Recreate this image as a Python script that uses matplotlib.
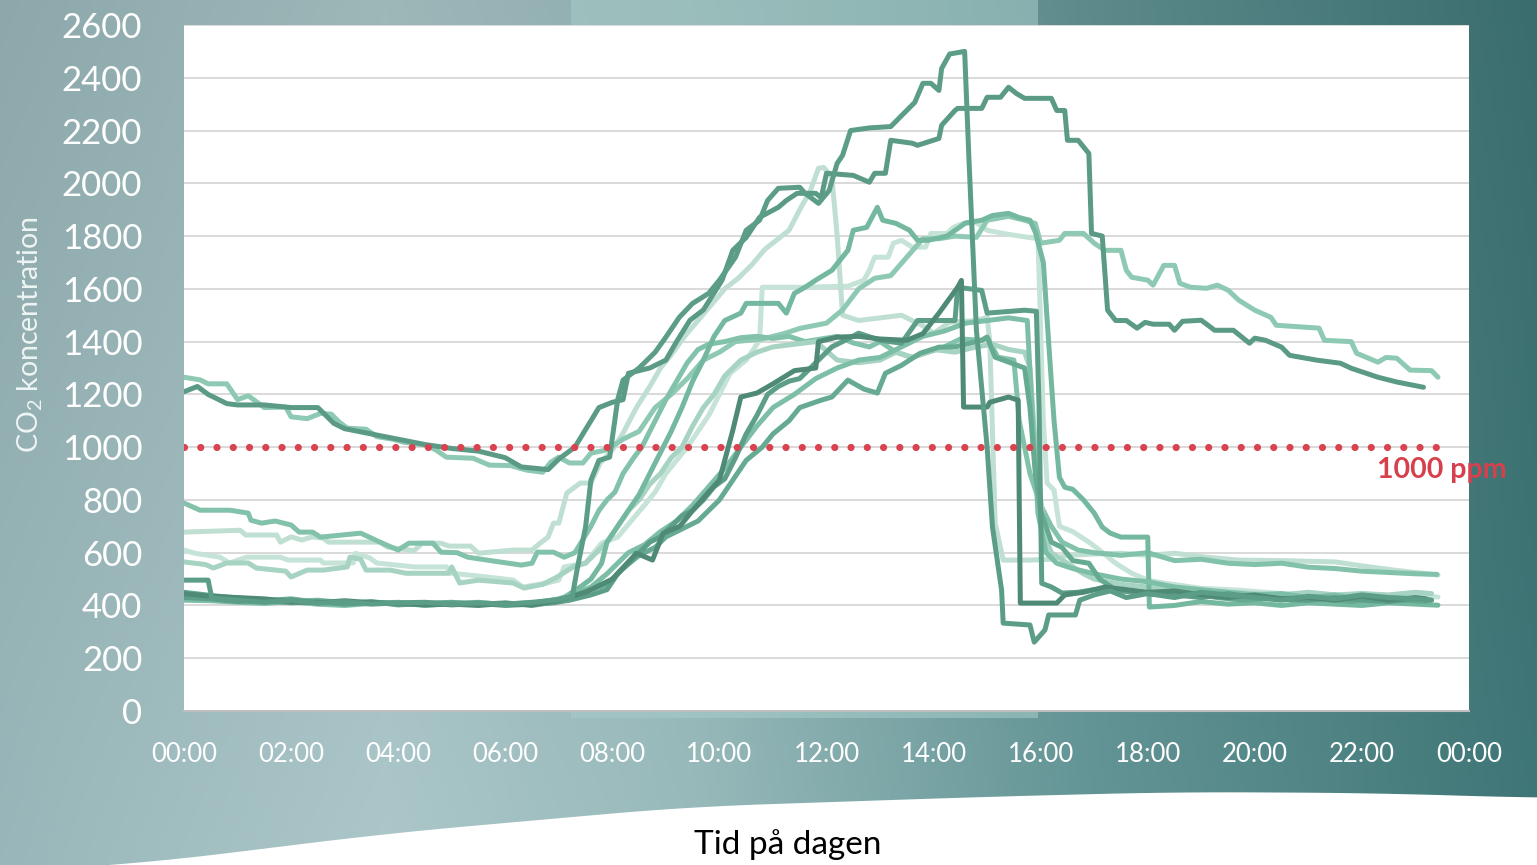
import numpy as np
import matplotlib
matplotlib.use("Agg")
import matplotlib.pyplot as plt
from matplotlib.patches import Rectangle, Polygon

plt.rcParams['font.family'] = ['Lato', 'DejaVu Sans']

# ---------------- data (hour of day, CO2 ppm) ----------------
s2 = [(0,1210),(0.25,1230),(0.45,1200),(0.8,1165),(1.0,1160),(1.5,1160),(2.0,1150),(2.5,1150),(2.8,1090),(3.0,1070),
      (3.5,1050),(4.0,1030),(4.5,1010),(5.0,995),(5.5,985),(6.0,960),(6.3,925),(6.8,915),(7.0,955),(7.3,1000),(7.6,1100),
      (7.75,1150),(8.0,1170),(8.2,1180),(8.3,1280),(8.7,1300),(9.0,1330),(9.2,1400),(9.45,1481),(9.7,1520),(10.05,1633),
      (10.25,1746),(10.5,1795),(10.75,1871),(11.1,1909),(11.25,1935),(11.45,1962),(11.8,1962),(11.9,1945),(12.0,2038),
      (12.5,2030),(12.8,2004),(12.9,2038),(13.1,2038),(13.2,2163),(13.6,2152),(13.7,2144),(14.1,2170),(14.15,2220),
      (14.4,2276),(14.45,2284),(14.9,2284),(15.0,2326),(15.25,2326),(15.4,2364),(15.55,2340),(15.7,2322),(16.2,2322),
      (16.3,2276),(16.45,2276),(16.5,2163),(16.7,2163),(16.9,2113),(16.95,1810),(17.15,1800),(17.25,1519),(17.4,1480),
      (17.6,1480),(17.8,1451),(17.95,1473),(18.1,1466),(18.4,1466),(18.5,1443),(18.65,1477),(19.0,1481),(19.25,1443),
      (19.6,1443),(19.9,1394),(20.0,1413),(20.2,1405),(20.5,1379),(20.65,1348),(21.15,1330),(21.6,1318),(21.8,1299),
      (22.3,1265),(22.65,1247),(22.95,1235),(23.15,1227)]

s3 = [(0,1265),(0.3,1255),(0.45,1240),(0.8,1240),(1.0,1180),(1.2,1195),(1.5,1150),(1.9,1152),(2.0,1115),(2.3,1108),
      (2.55,1128),(2.75,1125),(2.9,1095),(3.05,1072),(3.4,1068),(3.6,1040),(3.9,1030),(4.1,1019),(4.5,1008),(4.7,990),
      (4.9,962),(5.4,958),(5.7,932),(6.1,930),(6.4,913),(6.7,905),(6.85,943),(7.0,962),(7.2,940),(7.45,940),(7.6,977),
      (7.9,990),(8.2,1030),(8.5,1060),(8.8,1150),(9.1,1200),(9.4,1260),(9.7,1330),(10.0,1360),(10.3,1400),(10.8,1410),
      (11.2,1430),(11.5,1450),(12.0,1470),(12.3,1520),(12.6,1600),(12.9,1640),(13.2,1650),(13.5,1720),(13.8,1790),
      (14.1,1790),(14.4,1800),(14.8,1795),(15.0,1860),(15.4,1875),(15.7,1860),(15.9,1848),(16.0,1773),(16.35,1784),
      (16.45,1810),(16.8,1810),(17.0,1773),(17.2,1746),(17.5,1746),(17.6,1670),(17.7,1644),(18.0,1633),(18.1,1614),
      (18.3,1689),(18.5,1689),(18.6,1621),(18.8,1606),(19.1,1602),(19.3,1614),(19.5,1595),(19.7,1557),(20.0,1519),
      (20.3,1492),(20.4,1462),(21.2,1451),(21.3,1405),(21.8,1400),(21.9,1356),(22.3,1322),(22.45,1340),(22.65,1337),
      (22.9,1292),(23.3,1290),(23.42,1265)]

peak = [(0,496),(0.45,496),(0.52,428),(1.0,420),(1.5,412),(2.0,420),(2.5,408),(3.0,415),(3.5,405),(4.0,410),(4.5,412),
        (5.0,405),(5.5,410),(6.0,405),(6.5,412),(6.9,420),(7.25,432),(7.35,545),(7.5,697),(7.6,875),(7.75,950),(7.95,962),
        (8.1,1180),(8.2,1254),(8.5,1300),(8.8,1360),(9.0,1417),(9.25,1492),(9.5,1545),(9.8,1583),(10.0,1633),(10.3,1720),
        (10.5,1822),(10.75,1860),(10.9,1935),(11.1,1981),(11.5,1985),(11.6,1962),(11.85,1924),(12.05,1973),(12.2,2076),
        (12.3,2106),(12.45,2200),(12.8,2210),(13.2,2215),(13.37,2250),(13.65,2307),(13.8,2379),(13.95,2379),(14.1,2352),
        (14.15,2435),(14.3,2490),(14.58,2500),(14.66,2095),(14.8,1443),(15.0,1000),(15.1,697),(15.27,458),(15.3,333),
        (15.8,326),(15.88,261),(16.08,307),(16.15,364),(16.65,364),(16.73,420),(17.0,440),(17.3,455),(17.6,430),
        (18.0,445),(18.5,430),(19.0,450),(19.5,440),(20.0,430),(20.5,420),(21.0,435),(21.5,425),(22.0,440),(22.5,430),
        (23.0,425),(23.3,420)]

l1 = [(0,788),(0.3,761),(0.86,761),(1.2,750),(1.25,723),(1.45,712),(1.7,720),(2.0,705),(2.15,678),(2.4,678),(2.55,659),
      (3.3,674),(3.45,660),(3.66,640),(4.0,610),(4.2,636),(4.65,636),(4.8,602),(5.1,600),(5.3,583),(5.66,572),(6.3,553),
      (6.5,560),(6.6,602),(6.9,602),(7.1,583),(7.3,600),(7.45,650),(7.6,700),(7.75,760),(7.9,800),(8.05,830),(8.2,900),
      (8.4,960),(8.55,1000),(8.7,1060),(8.85,1120),(9.0,1180),(9.2,1250),(9.4,1320),(9.6,1370),(9.8,1390),(10.1,1400),
      (10.4,1415),(10.7,1420),(11.0,1412),(11.3,1420),(11.6,1400),(11.9,1410),(12.2,1420),(12.5,1395),(12.8,1380),
      (13.0,1400),(13.3,1360),(13.6,1340),(13.9,1360),(14.2,1380),(14.5,1410),(14.9,1405),(15.0,1417),(15.2,1341),
      (15.5,1330),(15.6,1100),(15.8,900),(16.0,780),(16.2,700),(16.4,640),(16.7,610),(17.0,600),(17.5,590),(18.0,600),
      (18.5,570),(19.0,575),(19.5,560),(20.0,555),(20.5,560),(21.0,545),(21.5,540),(22.0,530),(22.5,525),(23.0,520),
      (23.4,518)]

l2 = [(0,678),(1.05,685),(1.15,667),(1.73,667),(1.8,640),(2.0,660),(2.2,648),(2.4,660),(2.6,655),(2.7,640),(3.66,640),
      (3.8,621),(4.3,608),(4.45,636),(4.8,636),(4.95,625),(5.35,625),(5.5,598),(6.15,610),(6.5,610),(6.65,636),(6.8,659),
      (6.9,712),(7.0,712),(7.15,826),(7.4,864),(7.6,864),(7.77,939),(8.0,989),(8.2,1053),(8.45,1150),(8.7,1230),
      (8.9,1300),(9.1,1350),(9.35,1420),(9.6,1480),(9.85,1540),(10.1,1600),(10.35,1640),(10.6,1690),(10.85,1750),
      (11.1,1790),(11.3,1822),(11.5,1900),(11.7,1973),(11.85,2057),(11.95,2060),(12.1,2023),(12.2,1800),(12.3,1500),
      (12.6,1480),(13.0,1490),(13.4,1500),(13.8,1460),(14.0,1432),(14.3,1473),(14.8,1480),(15.0,1492),(15.05,1400),
      (15.15,712),(15.3,572),(15.8,572),(16.2,575),(16.5,590),(17.0,595),(17.5,598),(18.0,590),(18.5,598),(19.0,585),
      (19.7,572),(20.5,570),(21.5,565),(22.0,550),(22.6,534),(23.0,525),(23.42,515)]

l3 = [(0,610),(0.2,598),(0.67,583),(0.85,561),(1.17,583),(1.8,583),(1.95,572),(2.55,572),(2.6,561),(3.16,561),(3.2,598),
      (3.47,580),(3.6,561),(4.3,546),(4.9,546),(5.0,522),(5.66,508),(6.15,496),(6.33,470),(6.78,485),(7.0,496),(7.1,546),
      (7.5,561),(7.8,636),(8.1,659),(8.35,720),(8.6,780),(8.8,830),(9.0,900),(9.2,950),(9.4,1000),(9.6,1060),(9.8,1120),
      (10.0,1200),(10.2,1280),(10.5,1330),(10.75,1405),(10.8,1606),(11.5,1606),(12.4,1610),(12.7,1633),(12.8,1670),
      (12.9,1720),(13.15,1720),(13.25,1773),(13.4,1784),(13.6,1758),(13.85,1758),(13.95,1810),(14.25,1810),(14.37,1833),
      (14.55,1848),(14.8,1850),(15.0,1822),(15.3,1810),(15.6,1800),(15.95,1790),(16.05,1100),(16.12,864),(16.25,837),
      (16.35,700),(16.6,680),(16.9,640),(17.1,610),(17.4,560),(17.7,522),(18.0,496),(18.3,485),(19.0,465),(19.7,458),
      (20.5,445),(21.0,440),(21.5,435),(22.0,445),(22.5,435),(23.0,438),(23.42,432)]

l4 = [(0,565),(0.4,555),(0.55,542),(0.8,561),(1.2,561),(1.35,542),(1.9,530),(2.0,508),(2.3,534),(2.6,534),(3.05,546),
      (3.1,583),(3.3,575),(3.4,534),(3.85,534),(4.15,522),(4.95,522),(5.0,546),(5.15,485),(5.5,496),(6.15,485),(6.35,466),
      (6.7,480),(6.97,508),(7.27,546),(7.5,560),(7.7,600),(7.9,640),(8.1,700),(8.3,760),(8.5,800),(8.7,860),(8.9,900),
      (9.1,960),(9.3,1000),(9.5,1080),(9.7,1150),(9.9,1200),(10.1,1270),(10.4,1330),(10.7,1360),(11.0,1380),(11.4,1390),
      (11.8,1400),(12.2,1330),(12.6,1320),(13.0,1330),(13.3,1360),(13.6,1340),(14.0,1370),(14.4,1360),(14.8,1380),
      (15.1,1390),(15.4,1370),(15.7,1360),(15.8,1300),(15.9,1000),(16.0,800),(16.1,650),(16.2,600),(16.5,560),(16.8,520),
      (17.0,500),(17.5,480),(18.0,470),(18.5,460),(19.0,455),(19.5,450),(20.0,445),(20.5,440),(21.0,450),(21.5,440),
      (22.0,445),(22.5,440),(23.0,450),(23.3,445)]

r = [(0,440),(0.5,432),(1.0,425),(1.5,420),(2.0,415),(2.5,420),(3.0,410),(3.5,408),(4.0,412),(4.5,405),(5.0,410),
     (5.5,406),(6.0,405),(6.5,410),(6.9,412),(7.1,430),(7.4,470),(7.6,500),(7.8,560),(7.9,640),(8.1,700),(8.3,760),
     (8.5,820),(8.7,900),(8.9,980),(9.1,1060),(9.3,1150),(9.5,1250),(9.7,1330),(9.9,1420),(10.1,1480),(10.4,1508),
     (10.5,1545),(11.1,1545),(11.25,1508),(11.4,1583),(11.6,1606),(11.8,1633),(12.1,1670),(12.4,1746),(12.5,1822),
     (12.75,1833),(12.95,1909),(13.05,1860),(13.3,1848),(13.55,1822),(13.7,1784),(13.9,1784),(14.25,1800),(14.6,1850),
     (14.9,1860),(15.1,1878),(15.4,1886),(15.6,1870),(15.8,1860),(15.9,1815),(16.05,1700),(16.15,1394),(16.25,1100),
     (16.35,886),(16.45,848),(16.6,840),(16.8,800),(17.0,750),(17.15,697),(17.3,674),(17.5,659),(18.0,659),(18.03,394),
     (18.5,400),(19.0,415),(19.5,405),(20.0,410),(20.5,400),(21.0,410),(21.5,405),(22.0,400),(22.5,410),(23.0,405),
     (23.42,401)]

b1 = [(0,445),(0.5,435),(1.0,430),(1.5,425),(2.0,415),(2.5,410),(3.0,418),(3.5,410),(4.0,408),(4.5,402),(5.0,405),
      (5.5,400),(6.0,408),(6.5,402),(7.0,420),(7.5,450),(8.0,500),(8.45,598),(8.75,572),(8.95,674),(9.26,700),(9.5,760),
      (9.8,830),(10.0,875),(10.25,1064),(10.4,1190),(10.7,1205),(11.0,1240),(11.4,1290),(11.8,1300),(11.85,1400),
      (12.2,1417),(12.6,1420),(13.0,1410),(13.5,1405),(13.8,1430),(14.1,1508),(14.45,1606),(14.52,1632),(14.56,1152),
      (15.0,1152),(15.05,1170),(15.4,1190),(15.58,1178),(15.62,409),(16.3,409),(16.45,440),(16.8,450),(17.2,470),
      (17.6,460),(18.0,450),(18.5,455),(19.0,440),(19.5,430),(20.0,440),(20.5,425),(21.0,430),(21.5,420),(22.0,435),
      (22.5,420),(23.0,430),(23.2,425)]

b2 = [(0,430),(0.5,425),(1.0,415),(1.5,420),(2.0,410),(2.5,415),(3.0,405),(3.5,412),(4.0,405),(4.5,410),(5.0,402),
      (5.5,408),(6.0,400),(6.5,405),(6.9,410),(7.2,420),(7.6,440),(7.9,460),(8.1,520),(8.3,560),(8.5,600),(8.7,640),
      (8.9,660),(9.1,700),(9.3,740),(9.5,760),(9.7,800),(9.9,850),(10.1,880),(10.3,960),(10.5,1050),(10.7,1120),
      (10.9,1200),(11.1,1230),(11.3,1250),(11.5,1260),(11.7,1300),(11.9,1340),(12.1,1380),(12.3,1400),(12.6,1432),
      (13.0,1405),(13.4,1394),(13.7,1480),(14.4,1480),(14.45,1606),(14.9,1594),(15.0,1508),(15.7,1519),(15.92,1515),
      (15.97,1150),(16.02,484),(16.2,470),(16.4,447),(16.7,450),(17.0,460),(17.5,455),(18.0,445),(18.5,440),(19.0,430),
      (19.5,445),(20.0,430),(20.5,425),(21.0,420),(21.5,430),(22.0,420),(22.5,415),(23.0,425),(23.25,420)]

b3 = [(0,450),(0.5,438),(1.0,428),(1.5,418),(2.0,425),(2.5,412),(3.0,408),(3.5,415),(4.0,402),(4.5,408),(5.0,412),
      (5.5,404),(6.0,410),(6.5,400),(7.0,415),(7.3,440),(7.6,460),(7.9,480),(8.2,540),(8.5,590),(8.8,620),(9.0,660),
      (9.3,690),(9.6,720),(9.8,760),(10.0,800),(10.2,860),(10.5,950),(10.8,1000),(11.0,1050),(11.3,1100),(11.5,1150),
      (11.9,1178),(12.1,1190),(12.4,1254),(12.7,1220),(12.95,1205),(13.1,1280),(13.4,1310),(13.75,1356),(14.1,1379),
      (14.4,1380),(14.9,1405),(15.0,1417),(15.15,1341),(15.3,1330),(15.7,1300),(15.8,1150),(15.9,900),(16.0,760),
      (16.2,640),(16.4,620),(16.6,570),(16.9,560),(17.1,500),(17.4,460),(17.8,450),(18.3,440),(18.8,445),(19.3,430),
      (19.8,420),(20.3,430),(20.8,420),(21.3,425),(21.8,415),(22.3,430),(22.8,420),(23.2,415)]

b4 = [(0,420),(0.5,418),(1.0,412),(1.5,408),(2.0,414),(2.5,405),(3.0,400),(3.5,408),(4.0,410),(4.5,400),(5.0,408),
      (5.5,412),(6.0,402),(6.5,408),(7.0,425),(7.3,445),(7.6,470),(7.9,520),(8.1,560),(8.3,600),(8.6,630),(8.9,680),
      (9.2,720),(9.5,780),(9.8,850),(10.1,920),(10.4,1000),(10.7,1080),(11.0,1150),(11.4,1200),(11.8,1260),(12.2,1300),
      (12.6,1330),(13.0,1340),(13.4,1380),(13.8,1420),(14.2,1440),(14.6,1470),(15.0,1480),(15.4,1490),(15.75,1480),
      (15.85,1100),(15.95,750),(16.1,600),(16.3,560),(16.6,540),(17.0,520),(17.5,500),(18.0,490),(18.5,470),(19.0,460),
      (19.5,450),(20.0,440),(20.5,445),(21.0,430),(21.5,440),(22.0,420),(22.5,430),(23.0,425),(23.3,420)]

series = [l3, l2, s3, l1, l4, r, b4, b3, b2, b1, s2, peak]
colors = ['#c6e3d8', '#bfdfd2', '#8ec9b3', '#82c2aa', '#a6d3c2', '#74b99f',
          '#7dbfa6', '#66aa92', '#5d9e89', '#4f8a77', '#5b9b86', '#5c9d88']

threshold_t = [0, 23.42]
threshold_v = [1000, 1000]
threshold_label = '1000 ppm'

hour_ticks = list(range(0, 25, 2))
hour_labels = ['%02d:00' % (h % 24) for h in hour_ticks]
y_ticks = list(range(0, 2601, 200))

# ---------------- figure ----------------
W, H = 1537, 865
fig = plt.figure(figsize=(W / 100, H / 100), dpi=100)

# background gradient (decoration)
bg = fig.add_axes([0, 0, 1, 1], zorder=-10)
bg.set_xlim(0, W); bg.set_ylim(H, 0); bg.axis('off')
xs = np.linspace(0, 1, 400)
stops_x = [0.0, 0.25, 0.45, 0.7, 1.0]
stops_c = np.array([[150, 179, 182], [168, 195, 197], [150, 183, 184], [100, 148, 149], [62, 116, 117]]) / 255
row = np.stack([np.interp(xs, stops_x, stops_c[:, k]) for k in range(3)], axis=-1)
ys = np.linspace(0, 1, 200)[:, None, None]
img = row[None, :, :] * (0.94 + 0.08 * ys)
img = np.clip(img, 0, 1)
bg.imshow(img, extent=[0, W, H, 0], aspect='auto', zorder=0)
bg.add_patch(Rectangle((571, 0), 467, 718, facecolor='#a6cdc9', alpha=0.55, lw=0, zorder=1))
wx = np.array([0, 147, 392, 686, 980, 1176, 1372, 1537])
wy = np.array([872, 863, 833, 807, 797, 792, 793, 798])
cx = np.linspace(0, W, 200)
cy = np.interp(cx, wx, wy)
cy = np.convolve(np.pad(cy, 10, mode='edge'), np.ones(21) / 21, mode='valid')
poly = np.vstack([np.column_stack([cx, cy]), [[W, H + 5], [0, H + 5]]])
bg.add_patch(Polygon(poly, closed=True, facecolor='white', lw=0, zorder=2))

# plot area
ax = fig.add_axes([184 / W, 1 - 711 / H, (1469 - 184) / W, (711 - 25) / H])
ax.set_facecolor('white')
ax.set_xlim(0, 24)
ax.set_ylim(0, 2600)
for sp in ['top', 'right', 'left']:
    ax.spines[sp].set_visible(False)
ax.spines['bottom'].set_color('#bfbfbf')
ax.spines['bottom'].set_linewidth(1.5)
ax.set_yticks(y_ticks)
ax.set_xticks(hour_ticks)
ax.set_xticklabels(hour_labels)
ax.grid(axis='y', color='#d9d9d9', lw=1.4)
ax.set_axisbelow(True)
ax.tick_params(axis='both', length=0)
ax.tick_params(axis='y', pad=30, labelsize=25, labelcolor='white')
ax.tick_params(axis='x', pad=22, labelsize=18.5, labelcolor='white')

for s, c in zip(series, colors):
    t = [p[0] for p in s]
    v = [p[1] for p in s]
    ax.plot(t, v, color=c, lw=3.6, solid_joinstyle='round', solid_capstyle='round', zorder=3)

ax.plot(threshold_t, threshold_v, color='#d9434f', lw=5.2, linestyle=(0, (0.001, 2.25)),
        dash_capstyle='round', zorder=4)
ax.text(22.28, 913, threshold_label, color='#d6404d', fontsize=20.5, fontweight='bold',
        ha='left', va='center', clip_on=False, zorder=5)

fig.text(30 / W, 1 - 335 / H, r'CO$\mathregular{_2}$ koncentration', rotation=90, ha='center', va='center',
         fontsize=20.5, color='#eef4f4')
fig.text(788 / W, 1 - 845 / H, 'Tid på dagen', ha='center', va='center', fontsize=24, color='black')

fig.savefig('out.png', dpi=100)
